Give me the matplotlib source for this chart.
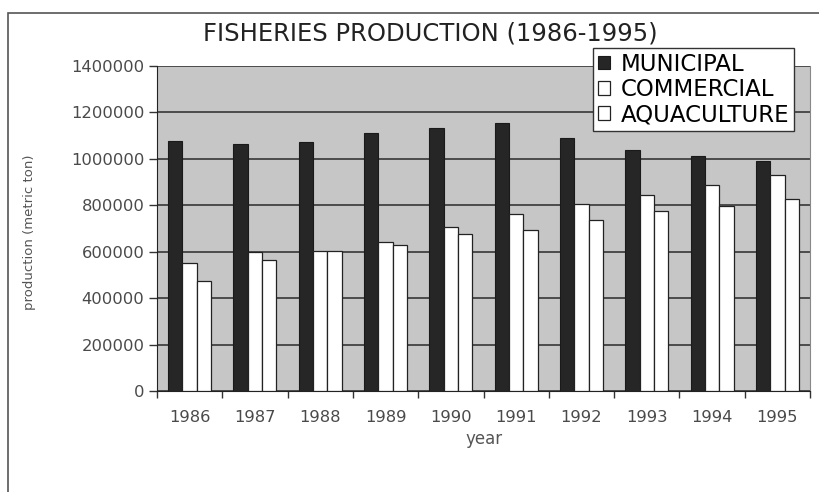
import matplotlib.pyplot as plt
import matplotlib.patches as mpatches
import numpy as np

years = ['1986', '1987', '1988', '1989', '1990', '1991', '1992', '1993', '1994', '1995']
municipal = [1076000, 1064000, 1074000, 1110000, 1133000, 1155000, 1092000, 1038000, 1012000, 989000]
commercial = [553000, 598000, 602000, 642000, 707000, 764000, 807000, 846000, 886000, 929000]
aquaculture = [474000, 563000, 602000, 628000, 676000, 695000, 736000, 774000, 796000, 825000]
series_names = ['MUNICIPAL', 'COMMERCIAL', 'AQUACULTURE']
yticks = [0, 200000, 400000, 600000, 800000, 1000000, 1200000, 1400000]

plt.rcParams['font.family'] = ['DejaVu Sans']

fig = plt.figure(figsize=(8.19, 4.92), dpi=100)
# outer chart frame (left and top edges visible)
fig.patches.append(mpatches.Rectangle((8/819, -0.1), 1.2, 1 - 13/492 + 0.1, transform=fig.transFigure,
                                      fill=False, edgecolor='#555555', linewidth=1.2))

ax = fig.add_axes([157/819, 1 - 391/492, 653/819, 325/492])
ax.set_facecolor('#c6c6c6')

x = np.arange(len(years))
w = 0.22
ax.bar(x - w, municipal, w, color='#262626', edgecolor='#1a1a1a', linewidth=0.8, label=series_names[0], zorder=3)
ax.bar(x, commercial, w, color='white', edgecolor='#222222', linewidth=0.9, label=series_names[1], zorder=3)
ax.bar(x + w, aquaculture, w, color='white', edgecolor='#222222', linewidth=0.9, label=series_names[2], zorder=3)

ax.set_xlim(-0.5, len(years) - 0.5)
ax.set_ylim(0, 1400000)
ax.set_yticks(yticks)
ax.set_yticklabels([str(v) for v in yticks], fontsize=11.8, color='#4a4a4a')
ax.yaxis.grid(True, color='#2a2a2a', linewidth=1.1, zorder=1)
ax.set_axisbelow(True)

ax.set_xticks(x)
ax.set_xticklabels(years, fontsize=11.8, color='#4a4a4a')
ax.set_xticks(np.arange(len(years) + 1) - 0.5, minor=True)
ax.tick_params(axis='x', which='major', length=0, pad=14)
ax.tick_params(axis='x', which='minor', length=5, width=1, direction='out', color='#333333')
ax.tick_params(axis='y', length=6, width=1, direction='out', color='#333333', pad=3)

ax.spines['top'].set_visible(False)
ax.spines['right'].set_color('#888888')
ax.spines['right'].set_linewidth(0.8)
ax.spines['left'].set_color('#222222')
ax.spines['bottom'].set_color('#222222')

ax.set_xlabel('year', fontsize=12, color='#555555', labelpad=3)
fig.text(30/819, 1 - 232/492, 'production (metric ton)', rotation=90, fontsize=9.5,
         color='#555555', ha='center', va='center')

fig.text(430/819, 1 - 33/492, 'FISHERIES PRODUCTION (1986-1995)', fontsize=17.5,
         ha='center', va='center', color='#222222')

leg = ax.legend(loc='upper left', bbox_to_anchor=(593/819, 1 - 48/492), bbox_transform=fig.transFigure,
                fontsize=16.5, frameon=True, fancybox=False, edgecolor='#333333', framealpha=1,
                handlelength=0.55, handleheight=0.55, handletextpad=0.45, borderpad=0.2,
                labelspacing=0.1, borderaxespad=0)
leg.get_frame().set_linewidth(1.0)
leg.set_zorder(10)

fig.savefig('out.png', dpi=100)
